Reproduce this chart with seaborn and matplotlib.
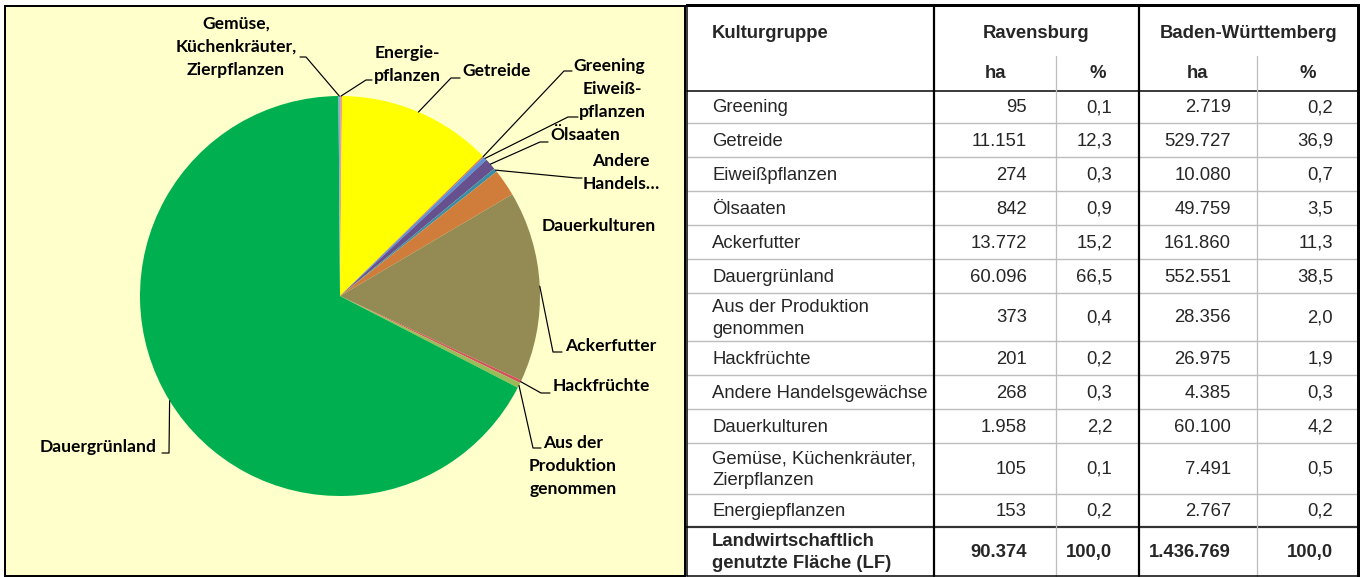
import matplotlib
matplotlib.use("Agg")
import matplotlib.pyplot as plt
import matplotlib.patches as mpatches
import seaborn as sns
import numpy as np

# ---------------- data ----------------
categories = ["Greening", "Getreide", "Eiweißpflanzen", "Ölsaaten", "Ackerfutter",
              "Dauergrünland", "Aus der Produktion\ngenommen", "Hackfrüchte",
              "Andere Handelsgewächse", "Dauerkulturen",
              "Gemüse, Küchenkräuter,\nZierpflanzen", "Energiepflanzen"]
ha_ravensburg = [95, 11151, 274, 842, 13772, 60096, 373, 201, 268, 1958, 105, 153]
pct_ravensburg = [0.1, 12.3, 0.3, 0.9, 15.2, 66.5, 0.4, 0.2, 0.3, 2.2, 0.1, 0.2]
ha_bw = [2719, 529727, 10080, 49759, 161860, 552551, 28356, 26975, 4385, 60100, 7491, 2767]
pct_bw = [0.2, 36.9, 0.7, 3.5, 11.3, 38.5, 2.0, 1.9, 0.3, 4.2, 0.5, 0.2]
total_label = "Landwirtschaftlich\ngenutzte Fläche (LF)"
total_ravensburg = 90374
total_bw = 1436769
total_pct = 100.0
header_group = ["Kulturgruppe", "Ravensburg", "Baden-Württemberg"]
header_units = ["ha", "%", "ha", "%"]

# pie order (clockwise from 12 o'clock), indices into categories
pie_order = [11, 1, 0, 2, 3, 8, 9, 4, 7, 6, 5, 10]
pie_labels = ["Energie-\npflanzen", "Getreide", "Greening", "Eiweiß-\npflanzen", "Ölsaaten",
              "Andere\nHandels…", "Dauerkulturen", "Ackerfutter", "Hackfrüchte",
              "Aus der\nProduktion\ngenommen", "Dauergrünland",
              "Gemüse,\nKüchenkräuter,\nZierpflanzen"]
pie_colors = ["#EBA192", "#FFFF00", "#E0703C", "#5A90D8", "#67508E", "#3A8DA6",
              "#D07C3A", "#948A54", "#D4505C", "#9BBB59", "#00B050", "#88AEDC"]

# ---------------- layout (pixels) ----------------
W, H = 1365, 577
# label layout: (x, first-line y, ha, leader elbow, leader end)
label_layout = [
    (407, 53, "center", (366, 80), (372, 80)),     # Energie
    (462, 71, "left", (451, 78), (460, 78)),       # Getreide
    (573, 66, "left", (564, 71), (572, 71)),       # Greening
    (612, 89, "center", (568, 117), (578, 117)),   # Eiweiß
    (550, 135, "left", (540, 142), (548, 142)),    # Ölsaaten
    (621, 161, "center", (577, 178), (582, 178)),  # Andere
    (599, 226, "center", None, None),              # Dauerkulturen
    (565, 346, "left", (553, 352), (562, 352)),    # Ackerfutter
    (553, 386, "left", (541, 393), (550, 393)),    # Hackfrüchte
    (573, 443, "center", (533, 448), (541, 448)),  # Aus der Produktion
    (157, 447, "right", (169, 453), (162, 453)),   # Dauergrünland
    (236, 24, "center", (306, 57), (300, 57)),     # Gemüse
]
label_line_step = 23

col_x = [687, 934, 1056, 1139, 1257, 1358]
row_y = [91, 123, 157, 191, 225, 259, 293, 341, 375, 409, 443, 494, 527, 576]

sns.set_theme(style="white")
plt.rcParams["font.family"] = ["Liberation Sans", "DejaVu Sans"]

fig = plt.figure(figsize=(W / 100, H / 100), dpi=100)
fig.patch.set_facecolor("white")

PT = 0.72  # points per pixel

# background / table axes
bg = fig.add_axes([0, 0, 1, 1])
bg.set_xlim(0, W)
bg.set_ylim(H, 0)
bg.axis("off")

# left panel
bg.add_patch(mpatches.Rectangle((5, 6), 680, 570, facecolor="#FFFFCC",
                                edgecolor="black", linewidth=2 * PT))

# table lines
tl, tr = col_x[0], col_x[-1]
ttop, tbot = 5, 576
for yy in row_y[1:-2]:
    bg.plot([tl, tr], [yy, yy], color="#BDBDBD", lw=1.4 * PT, solid_capstyle="butt")
bg.plot([tl, tr], [row_y[0], row_y[0]], color="black", lw=1.5 * PT)
bg.plot([tl, tr], [row_y[-2], row_y[-2]], color="#333333", lw=2.2 * PT)
for xx in (col_x[2], col_x[4]):
    bg.plot([xx, xx], [56, tbot], color="#BDBDBD", lw=1.3 * PT)
for xx in (col_x[1], col_x[3]):
    bg.plot([xx, xx], [ttop, tbot], color="black", lw=2.2 * PT)
bg.plot([tl, tr], [ttop, ttop], color="black", lw=3 * PT, solid_capstyle="projecting")
bg.plot([tr, tr], [ttop, tbot], color="black", lw=3 * PT, solid_capstyle="projecting")
bg.plot([tl, tl], [ttop, tbot], color="black", lw=1.5 * PT)
bg.plot([tl, tr], [tbot, tbot], color="black", lw=1.5 * PT)

# table text
FS = 13.3
def fmt_int(v):
    return f"{v:,}".replace(",", ".")
def fmt_pct(v):
    return f"{v:.1f}".replace(".", ",")

def multiline(ax, x, yc, text, ha, step, **kw):
    lines = text.split("\n")
    n = len(lines)
    for i, ln in enumerate(lines):
        ax.text(x, yc + (i - (n - 1) / 2) * step, ln, ha=ha, va="center", **kw)

text_left = 712
ha_right = [1027, 1112, 1231, 1333]
bg.text(text_left, 33, header_group[0], ha="left", va="center", fontsize=FS, fontweight="bold")
bg.text((col_x[1] + col_x[3]) / 2, 33, header_group[1], ha="center", va="center", fontsize=FS, fontweight="bold")
bg.text((col_x[3] + col_x[5]) / 2, 33, header_group[2], ha="center", va="center", fontsize=FS, fontweight="bold")
for j, u in enumerate(header_units):
    bg.text((col_x[j + 1] + col_x[j + 2]) / 2, 74, u, ha="center", va="center", fontsize=FS, fontweight="bold")

for i, cat in enumerate(categories):
    yc = (row_y[i] + row_y[i + 1]) / 2 + 1
    multiline(bg, text_left, yc, cat, "left", 22, fontsize=FS)
    vals = [fmt_int(ha_ravensburg[i]), fmt_pct(pct_ravensburg[i]),
            fmt_int(ha_bw[i]), fmt_pct(pct_bw[i])]
    for xr, v in zip(ha_right, vals):
        bg.text(xr, yc, v, ha="right", va="center", fontsize=FS)
yc = (row_y[-2] + row_y[-1]) / 2 + 1
multiline(bg, text_left, yc, total_label, "left", 22, fontsize=FS, fontweight="bold")
for xr, v in zip(ha_right, [fmt_int(total_ravensburg), fmt_pct(total_pct),
                            fmt_int(total_bw), fmt_pct(total_pct)]):
    bg.text(xr, yc, v, ha="right", va="center", fontsize=FS, fontweight="bold")

# pie
cx, cy, R = 340, 296, 200
pax = fig.add_axes([(cx - R) / W, (H - cy - R) / H, 2 * R / W, 2 * R / H])
pax.set_facecolor("none")
pie_vals = [ha_ravensburg[k] for k in pie_order]
wedges, _ = pax.pie(pie_vals, colors=pie_colors, startangle=90, counterclock=False,
                    radius=1, wedgeprops=dict(linewidth=0))
pax.set_xlim(-1, 1)
pax.set_ylim(-1, 1)
pax.set_aspect("equal")
pax.axis("off")

# labels & leaders
top = fig.add_axes([0, 0, 1, 1])
top.set_xlim(0, W)
top.set_ylim(H, 0)
top.axis("off")
top.patch.set_alpha(0)

fig.canvas.draw()
for w, lab, lay in zip(wedges, pie_labels, label_layout):
    x, y0, ha, elbow, end = lay
    lines = lab.split("\n")
    for i, ln in enumerate(lines):
        top.text(x, y0 + i * label_line_step, ln, ha=ha, va="center", fontsize=12.6,
                 fontweight="bold", family=["Lato", "DejaVu Sans"], color="black")
    if elbow is not None:
        mid = np.deg2rad((w.theta1 + w.theta2) / 2)
        dx, dy = pax.transData.transform((np.cos(mid), np.sin(mid)))
        sx, sy = dx, H - dy
        top.plot([sx, elbow[0], end[0]], [sy, elbow[1], end[1]], color="black", lw=1.2 * PT)

fig.savefig("out.png", dpi=100)
